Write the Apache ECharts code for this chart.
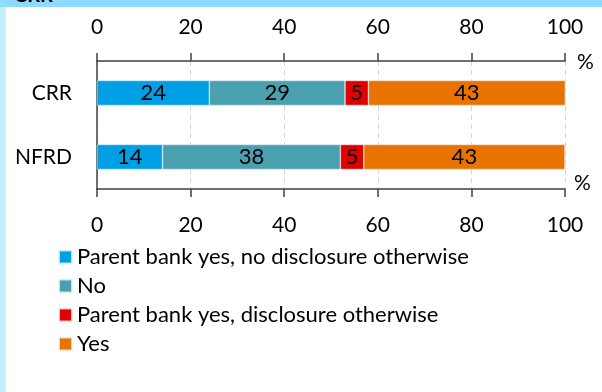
<!DOCTYPE html>
<html>
<head>
<meta charset="utf-8">
<script src="https://cdn.jsdelivr.net/npm/echarts@6/dist/echarts.min.js"></script>
<style>
  html, body { margin: 0; padding: 0; background: #ffffff; }
  #chart { width: 602px; height: 392px; }
</style>
</head>
<body>
<div id="chart"></div>
<script>
// Disclosure regimes, share of respondents (%)
const categories = ['CRR', 'NFRD'];
const seriesNames = [
  'Parent bank yes, no disclosure otherwise',
  'No',
  'Parent bank yes, disclosure otherwise',
  'Yes'
];
const parentNoDisclosure = [24, 14];
const noValues = [29, 38];
const parentDisclosure = [5, 5];
const yesValues = [43, 43];
const xTicks = [0, 20, 40, 60, 80, 100];

const colors = ['#009FE3', '#4AA0AE', '#E00000', '#E87300'];
const seriesValues = [parentNoDisclosure, noValues, parentDisclosure, yesValues];
const FONT = 'Lato';
const FS = 21;

const chart = echarts.init(document.getElementById('chart'), null, { renderer: 'canvas' });

const axisLabelStyle = { color: '#000', fontSize: FS, fontFamily: FONT };
const valueAxis = (pos) => ({
  type: 'value',
  position: pos,
  min: xTicks[0],
  max: xTicks[xTicks.length - 1],
  interval: 20,
  axisLine: { show: true, lineStyle: { color: '#404040', width: 1.5 } },
  axisTick: { show: true, inside: false, length: 8, lineStyle: { color: '#404040', width: 1.5 } },
  axisLabel: Object.assign({ margin: pos === 'bottom' ? 26 : 23 }, axisLabelStyle),
  splitLine: pos === 'bottom'
    ? { show: true, lineStyle: { color: '#D4D4D4', type: [5, 4], width: 1 } }
    : { show: false }
});

chart.setOption({
  animation: false,
  color: colors,
  textStyle: { fontFamily: FONT },
  grid: { left: 97, right: 37, top: 61, height: 128, containLabel: false },
  xAxis: [valueAxis('bottom'), valueAxis('top')],
  yAxis: {
    type: 'category',
    data: categories,
    inverse: true,
    axisLine: { show: true, lineStyle: { color: '#404040', width: 1.5 } },
    axisTick: { show: false },
    axisLabel: Object.assign({ margin: 25 }, axisLabelStyle)
  },
  legend: {
    orient: 'vertical',
    left: 58,
    top: 246,
    padding: 0,
    itemWidth: 13,
    itemHeight: 13,
    itemGap: 7,
    icon: 'rect',
    textStyle: { color: '#000', fontSize: 22, lineHeight: 22, fontFamily: FONT, padding: 0 },
    data: seriesNames
  },
  series: seriesNames.map((name, i) => ({
    name: name,
    type: 'bar',
    stack: 'total',
    barWidth: 25,
    data: seriesValues[i],
    itemStyle: { color: colors[i], borderColor: 'rgba(230,245,250,0.8)', borderWidth: 0.6 },
    label: { show: true, position: 'inside', color: '#000', fontSize: 22, fontFamily: FONT }
  })),
  graphic: [
    { type: 'rect', left: 0, top: 0, z: 100, shape: { width: 602, height: 7 }, style: { fill: '#8DDBFF' } },
    { type: 'rect', left: 0, top: 7, z: 100, shape: { width: 6, height: 385 }, style: { fill: '#C6ECFF' } },
    { type: 'text', left: 14, top: -14, z: 101, style: { text: 'CRR', fill: '#000', font: 'bold 20px ' + FONT } },
    { type: 'text', left: 577, top: 52, z: 50, style: { text: '%', fill: '#000', font: FS + 'px ' + FONT } },
    { type: 'text', left: 574, top: 173, z: 50, style: { text: '%', fill: '#000', font: FS + 'px ' + FONT } }
  ]
});
</script>
</body>
</html>
